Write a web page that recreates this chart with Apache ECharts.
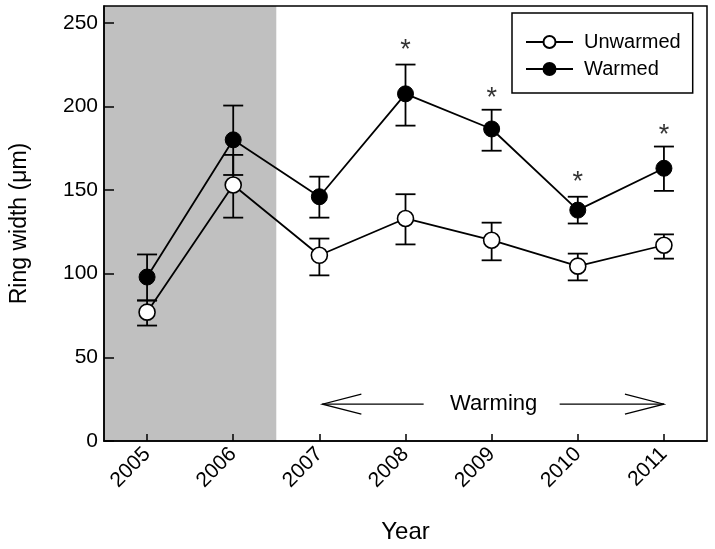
<!DOCTYPE html>
<html>
<head>
<meta charset="utf-8">
<script src="https://cdn.jsdelivr.net/npm/echarts@6/dist/echarts.min.js"></script>
<style>html,body{margin:0;padding:0;background:#fff}#c{width:715px;height:549px}</style>
</head>
<body>
<div id="c"></div>
<script>
const years = ['2005', '2006', '2007', '2008', '2009', '2010', '2011'];
const unwarmed = [77, 153, 111, 133, 120, 104.5, 117];
const unwarmedLow = [69, 133.5, 99, 117.5, 108, 96, 109];
const unwarmedHigh = [84, 171, 121, 147.5, 130.5, 112, 123.5];
const warmed = [98, 180, 146, 207.5, 186.5, 138, 163];
const warmedLow = [84, 159, 133.5, 188.5, 173.5, 130, 149.5];
const warmedHigh = [111.5, 200.5, 158, 225, 198, 146, 176];
const sigYears = ['2008', '2009', '2010', '2011'];
const sigValues = [237, 208, 158, 186];
const shadeYears = ['2005', '2006'];
const arrowYears = ['2007', '2011'];
const arrowValue = 22;
const yTicks = [0, 50, 100, 150, 200, 250];

const FONT = 'Liberation Sans, Arial, sans-serif';
const chart = echarts.init(document.getElementById('c'), null, {renderer: 'canvas'});

function errData(low, high) {
  return years.map((y, i) => [y, low[i], high[i]]);
}
function errRender(params, api) {
  const x = api.value(0);
  const lo = api.coord([x, api.value(1)]);
  const hi = api.coord([x, api.value(2)]);
  const cw = 10;
  const st = {stroke: '#000', lineWidth: 1.8};
  return {
    type: 'group',
    children: [
      {type: 'line', shape: {x1: lo[0], y1: lo[1], x2: hi[0], y2: hi[1]}, style: st},
      {type: 'line', shape: {x1: lo[0] - cw, y1: lo[1], x2: lo[0] + cw, y2: lo[1]}, style: st},
      {type: 'line', shape: {x1: hi[0] - cw, y1: hi[1], x2: hi[0] + cw, y2: hi[1]}, style: st}
    ]
  };
}

const option = {
  animation: false,
  backgroundColor: '#fff',
  textStyle: {fontFamily: FONT},
  grid: {left: 103, right: 8, top: 6, bottom: 108, show: true, borderColor: '#000', borderWidth: 1.5, backgroundColor: 'transparent', z: 10},
  legend: {
    left: 512, top: 13,
    orient: 'vertical',
    data: ['Unwarmed', 'Warmed'],
    borderColor: '#000', borderWidth: 1.5,
    padding: [19, 12, 14, 13],
    itemWidth: 47, itemHeight: 15, itemGap: 7,
    textStyle: {fontSize: 20, color: '#000', fontFamily: FONT, padding: [0, 0, 0, 6]}
  },
  xAxis: {
    type: 'category',
    data: years,
    boundaryGap: true,
    z: 10,
    name: 'Year', nameLocation: 'middle', nameGap: 79,
    nameTextStyle: {fontSize: 24, color: '#000', fontFamily: FONT},
    axisLine: {show: true, lineStyle: {color: '#000', width: 1.5}},
    axisTick: {show: true, inside: true, length: 7, alignWithLabel: true, lineStyle: {color: '#000', width: 1.5}},
    axisLabel: {rotate: 45, margin: 10, fontSize: 21, color: '#000', fontFamily: FONT},
    splitLine: {show: false}
  },
  yAxis: {
    type: 'value',
    min: 0, max: 260, interval: 50,
    z: 10,
    name: 'Ring width (μm)', nameLocation: 'middle', nameGap: 73,
    nameTextStyle: {fontSize: 23, color: '#000', fontFamily: FONT},
    axisLine: {show: true, lineStyle: {color: '#000', width: 1.5}},
    axisTick: {show: true, inside: true, length: 10, lineStyle: {color: '#000', width: 1.5}, customValues: yTicks},
    axisLabel: {margin: 6, fontSize: 21, color: '#000', fontFamily: FONT, customValues: yTicks},
    splitLine: {show: false}
  },
  series: [
    {
      type: 'custom', name: 'shade', z: 1, silent: true,
      data: [[shadeYears[0], shadeYears[1]]],
      encode: {x: [0, 1]},
      renderItem: function (params, api) {
        const cs = params.coordSys;
        const bw = api.size([1, 0])[0];
        const a = api.coord([api.value(0), 0])[0] - bw / 2;
        const b = api.coord([api.value(1), 0])[0] + bw / 2;
        return {type: 'rect', shape: {x: a, y: cs.y, width: b - a, height: cs.height}, style: {fill: '#c0c0c0'}};
      }
    },
    {
      type: 'custom', name: 'errU', z: 3, silent: true,
      data: errData(unwarmedLow, unwarmedHigh), encode: {x: 0, y: [1, 2]},
      renderItem: errRender
    },
    {
      type: 'custom', name: 'errW', z: 3, silent: true,
      data: errData(warmedLow, warmedHigh), encode: {x: 0, y: [1, 2]},
      renderItem: errRender
    },
    {
      type: 'line', name: 'Unwarmed', z: 5,
      data: unwarmed,
      symbol: 'circle', symbolSize: 16,
      lineStyle: {color: '#000', width: 1.8},
      itemStyle: {color: '#fff', borderColor: '#000', borderWidth: 1.6}
    },
    {
      type: 'line', name: 'Warmed', z: 6,
      data: warmed,
      symbol: 'circle', symbolSize: 16,
      lineStyle: {color: '#000', width: 1.8},
      itemStyle: {color: '#000', borderColor: '#000', borderWidth: 1}
    },
    {
      type: 'scatter', name: 'sig', z: 6, silent: true,
      data: sigYears.map((y, i) => [y, sigValues[i]]),
      symbolSize: 1, itemStyle: {color: 'transparent'},
      label: {show: true, position: 'inside', formatter: '*', fontSize: 27, color: '#000', fontFamily: FONT, offset: [0, 6]}
    },
    {
      type: 'custom', name: 'arrow', z: 6, silent: true,
      data: [[arrowYears[0], arrowYears[1], arrowValue]],
      encode: {x: [0, 1], y: 2},
      renderItem: function (params, api) {
        const p1 = api.coord([api.value(0), api.value(2)]);
        const p2 = api.coord([api.value(1), api.value(2)]);
        const mid = (p1[0] + p2[0]) / 2;
        const gap = 68, hl = 39, hh = 10;
        const st = {stroke: '#000', lineWidth: 1.2};
        const y = p1[1];
        const x1 = p1[0] + 3;
        return {
          type: 'group',
          children: [
            {type: 'line', shape: {x1: x1, y1: y, x2: mid - gap, y2: y}, style: st},
            {type: 'polyline', shape: {points: [[x1 + hl, y - hh], [x1, y], [x1 + hl, y + hh]]}, style: Object.assign({fill: null}, st)},
            {type: 'line', shape: {x1: mid + gap, y1: y, x2: p2[0], y2: y}, style: st},
            {type: 'polyline', shape: {points: [[p2[0] - hl, y - hh], [p2[0], y], [p2[0] - hl, y + hh]]}, style: Object.assign({fill: null}, st)},
            {type: 'text', x: mid + 2, y: y, style: {text: 'Warming', fontSize: 22, fontFamily: FONT, fill: '#000', align: 'center', verticalAlign: 'middle'}}
          ]
        };
      }
    }
  ]
};
chart.setOption(option);
</script>
</body>
</html>
